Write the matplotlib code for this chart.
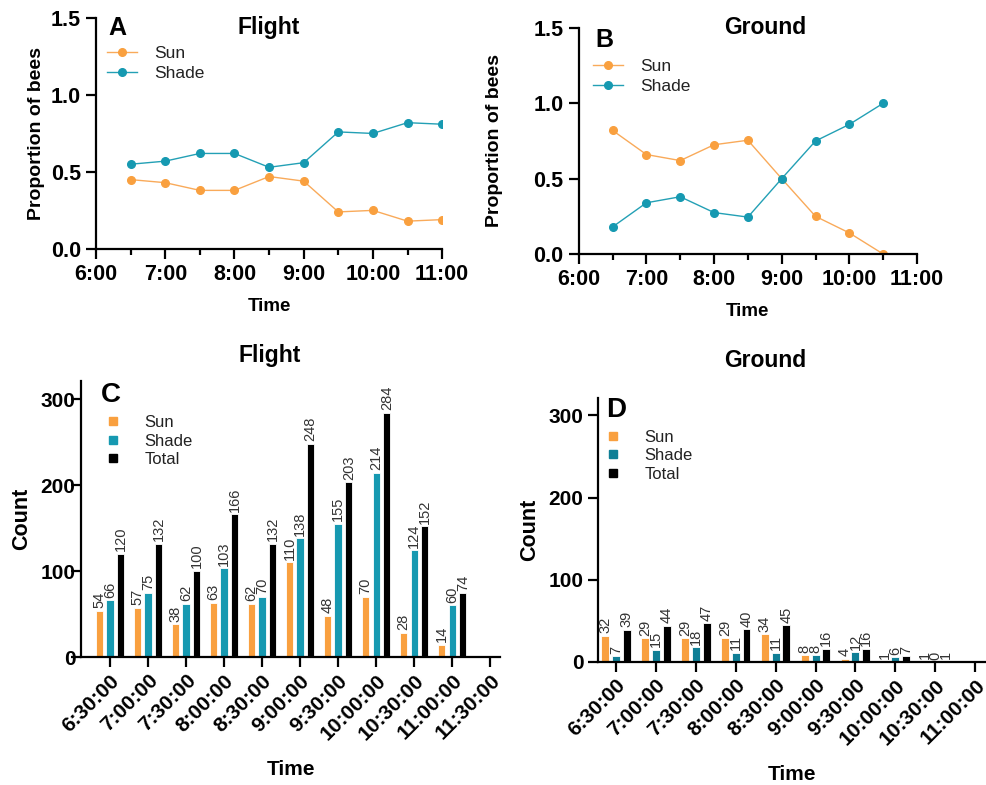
import matplotlib
matplotlib.use("Agg")
import matplotlib.pyplot as plt
from matplotlib.ticker import MultipleLocator
from matplotlib.lines import Line2D
import numpy as np

plt.rcParams.update({
    "font.family": ["Liberation Sans", "DejaVu Sans"],
    "axes.linewidth": 1.6,
    "xtick.major.width": 1.6,
    "ytick.major.width": 1.6,
    "xtick.minor.width": 1.6,
})

SUN = "#F9A03F"
SHADE = "#1699B1"
SHADE_DARK = "#0F7F96"
SUN_LINE = "#F9AA5A"
SHADE_LINE = "#23A0B5"

# proportions over time (hours)
flight_hours = [6.5, 7.0, 7.5, 8.0, 8.5, 9.0, 9.5, 10.0, 10.5, 11.0]
flight_sun_prop = [0.45, 0.43, 0.38, 0.38, 0.47, 0.44, 0.24, 0.25, 0.18, 0.19]
flight_shade_prop = [0.55, 0.57, 0.62, 0.62, 0.53, 0.56, 0.76, 0.75, 0.82, 0.81]

ground_hours = [6.5, 7.0, 7.5, 8.0, 8.5, 9.0, 9.5, 10.0, 10.5]
ground_sun_prop = [0.82, 0.66, 0.62, 0.725, 0.755, 0.5, 0.25, 0.14, 0.0]
ground_shade_prop = [0.18, 0.34, 0.38, 0.275, 0.245, 0.5, 0.75, 0.86, 1.0]

hour_labels = ["6:00", "7:00", "8:00", "9:00", "10:00", "11:00"]
prop_labels = ["0.0", "0.5", "1.0", "1.5"]

# counts
flight_times = ["6:30:00", "7:00:00", "7:30:00", "8:00:00", "8:30:00", "9:00:00",
                "9:30:00", "10:00:00", "10:30:00", "11:00:00", "11:30:00"]
flight_sun = [54, 57, 38, 63, 62, 110, 48, 70, 28, 14]
flight_shade = [66, 75, 62, 103, 70, 138, 155, 214, 124, 60]
flight_total = [120, 132, 100, 166, 132, 248, 203, 284, 152, 74]

ground_times = ["6:30:00", "7:00:00", "7:30:00", "8:00:00", "8:30:00", "9:00:00",
                "9:30:00", "10:00:00", "10:30:00", "11:00:00"]
ground_sun = [32, 29, 29, 29, 34, 8, 4, 1, 1]
ground_shade = [7, 15, 18, 11, 11, 8, 12, 6, 0]
ground_total = [39, 44, 47, 40, 45, 16, 16, 7, 1]

fig = plt.figure(figsize=(9.86, 7.85), dpi=100)

axA = fig.add_axes([0.0974, 0.683, 0.351, 0.294])
axB = fig.add_axes([0.587, 0.6764, 0.343, 0.288])
axC = fig.add_axes([0.0822, 0.163, 0.425, 0.3516])
axD = fig.add_axes([0.6065, 0.1567, 0.3935, 0.336])


def style(ax):
    for s in ("top", "right"):
        ax.spines[s].set_visible(False)


def line_panel(ax, hours, sun, shade, title, title_xy, letter, letter_xy, leg_anchor, ypad):
    style(ax)
    ax.plot(hours, sun, "-o", color=SUN_LINE, mfc=SUN, mec=SUN, lw=1.0, ms=5.5, label="Sun")
    ax.plot(hours, shade, "-o", color=SHADE_LINE, mfc=SHADE, mec=SHADE, lw=1.0, ms=5.5, label="Shade")
    ax.set_xlim(6, 11)
    ax.set_ylim(0, 1.5)
    ax.set_xticks(range(6, 12))
    ax.set_xticklabels(hour_labels)
    ax.xaxis.set_minor_locator(MultipleLocator(0.5))
    ax.set_yticks([0, 0.5, 1.0, 1.5])
    ax.set_yticklabels(prop_labels)
    ax.tick_params(axis="both", which="major", length=7, labelsize=15.5, pad=4)
    ax.tick_params(axis="x", which="minor", length=4)
    for t in ax.get_xticklabels() + ax.get_yticklabels():
        t.set_fontweight("bold")
    ax.set_xlabel("Time", fontsize=13.5, fontweight="bold", labelpad=9)
    ax.set_ylabel("Proportion of bees", fontsize=14, fontweight="bold", labelpad=ypad)
    ax.text(title_xy[0], title_xy[1], title, transform=ax.transAxes,
            ha="center", va="center", fontsize=16.5, fontweight="bold")
    ax.text(letter_xy[0], letter_xy[1], letter, transform=ax.transAxes,
            ha="center", va="center", fontsize=18, fontweight="bold")
    ax.legend(loc="upper left", bbox_to_anchor=leg_anchor, frameon=False, fontsize=12.5,
              handlelength=1.7, handletextpad=1.0, labelspacing=0.3, borderaxespad=0,
              labelcolor="#222222")


line_panel(axA, flight_hours, flight_sun_prop, flight_shade_prop, "Flight", (0.5, 0.961),
           "A", (0.062, 0.955), (0.012, 0.91), 4)
line_panel(axB, ground_hours, ground_sun_prop, ground_shade_prop, "Ground", (0.55, 1.004),
           "B", (0.077, 0.945), (0.022, 0.895), 22)


def bar_panel(ax, times, sun, shade, total, shade_color, title, title_xy, letter,
              letter_xy, xlim, leg_anchor, off, width, ytick_pad, ylabel_pad):
    style(ax)
    x = np.arange(len(sun))
    groups = [(sun, SUN, -off, "Sun"), (shade, shade_color, 0.0, "Shade"),
              (total, "black", off, "Total")]
    handles = []
    for vals, col, dx, name in groups:
        ax.bar(x + dx, vals, width=width, color=col, edgecolor="white", linewidth=0.6)
        for xi, v in zip(x, vals):
            ax.text(xi + dx, v + 3, str(v), rotation=90, ha="center", va="bottom",
                    fontsize=10.5, color="#333333")
        handles.append(Line2D([], [], ls="none", marker="s", ms=6, color=col, label=name))
    ax.set_xlim(*xlim)
    ax.set_ylim(0, 321)
    ax.set_xticks(np.arange(len(times)))
    ax.set_xticklabels(times, rotation=45, ha="right", rotation_mode="anchor",
                       fontsize=14, fontweight="bold")
    ax.set_yticks([0, 100, 200, 300])
    ax.tick_params(axis="both", length=7, labelsize=15)
    ax.tick_params(axis="x", pad=3)
    ax.tick_params(axis="y", pad=ytick_pad)
    for t in ax.get_yticklabels():
        t.set_fontweight("bold")
    ax.set_xlabel("Time", fontsize=15, fontweight="bold", labelpad=12)
    ax.set_ylabel("Count", fontsize=15.5, fontweight="bold", labelpad=ylabel_pad)
    ax.text(title_xy[0], title_xy[1], title, transform=ax.transAxes, ha="center",
            va="center", fontsize=16.5, fontweight="bold")
    ax.text(letter_xy[0], letter_xy[1], letter, transform=ax.transAxes, ha="center",
            va="center", fontsize=20, fontweight="bold")
    ax.legend(handles=handles, loc="upper left", bbox_to_anchor=leg_anchor, frameon=False,
              fontsize=12, handlelength=1.0, handletextpad=1.4, labelspacing=0.2,
              borderaxespad=0, labelcolor="#222222")


bar_panel(axC, flight_times, flight_sun, flight_shade, flight_total, SHADE, "Flight",
          (0.451, 1.094), "C", (0.072, 0.949), (-0.76, 10.26), (0.04, 0.9), 0.28, 0.19,
          -3, 6)
bar_panel(axD, ground_times, ground_sun, ground_shade, ground_total, SHADE_DARK, "Ground",
          (0.43, 1.144), "D", (0.047, 0.955), (-0.45, 9.27), (0.0, 0.905), 0.27, 0.2,
          3.5, 6)

fig.savefig("out.png", dpi=100)
